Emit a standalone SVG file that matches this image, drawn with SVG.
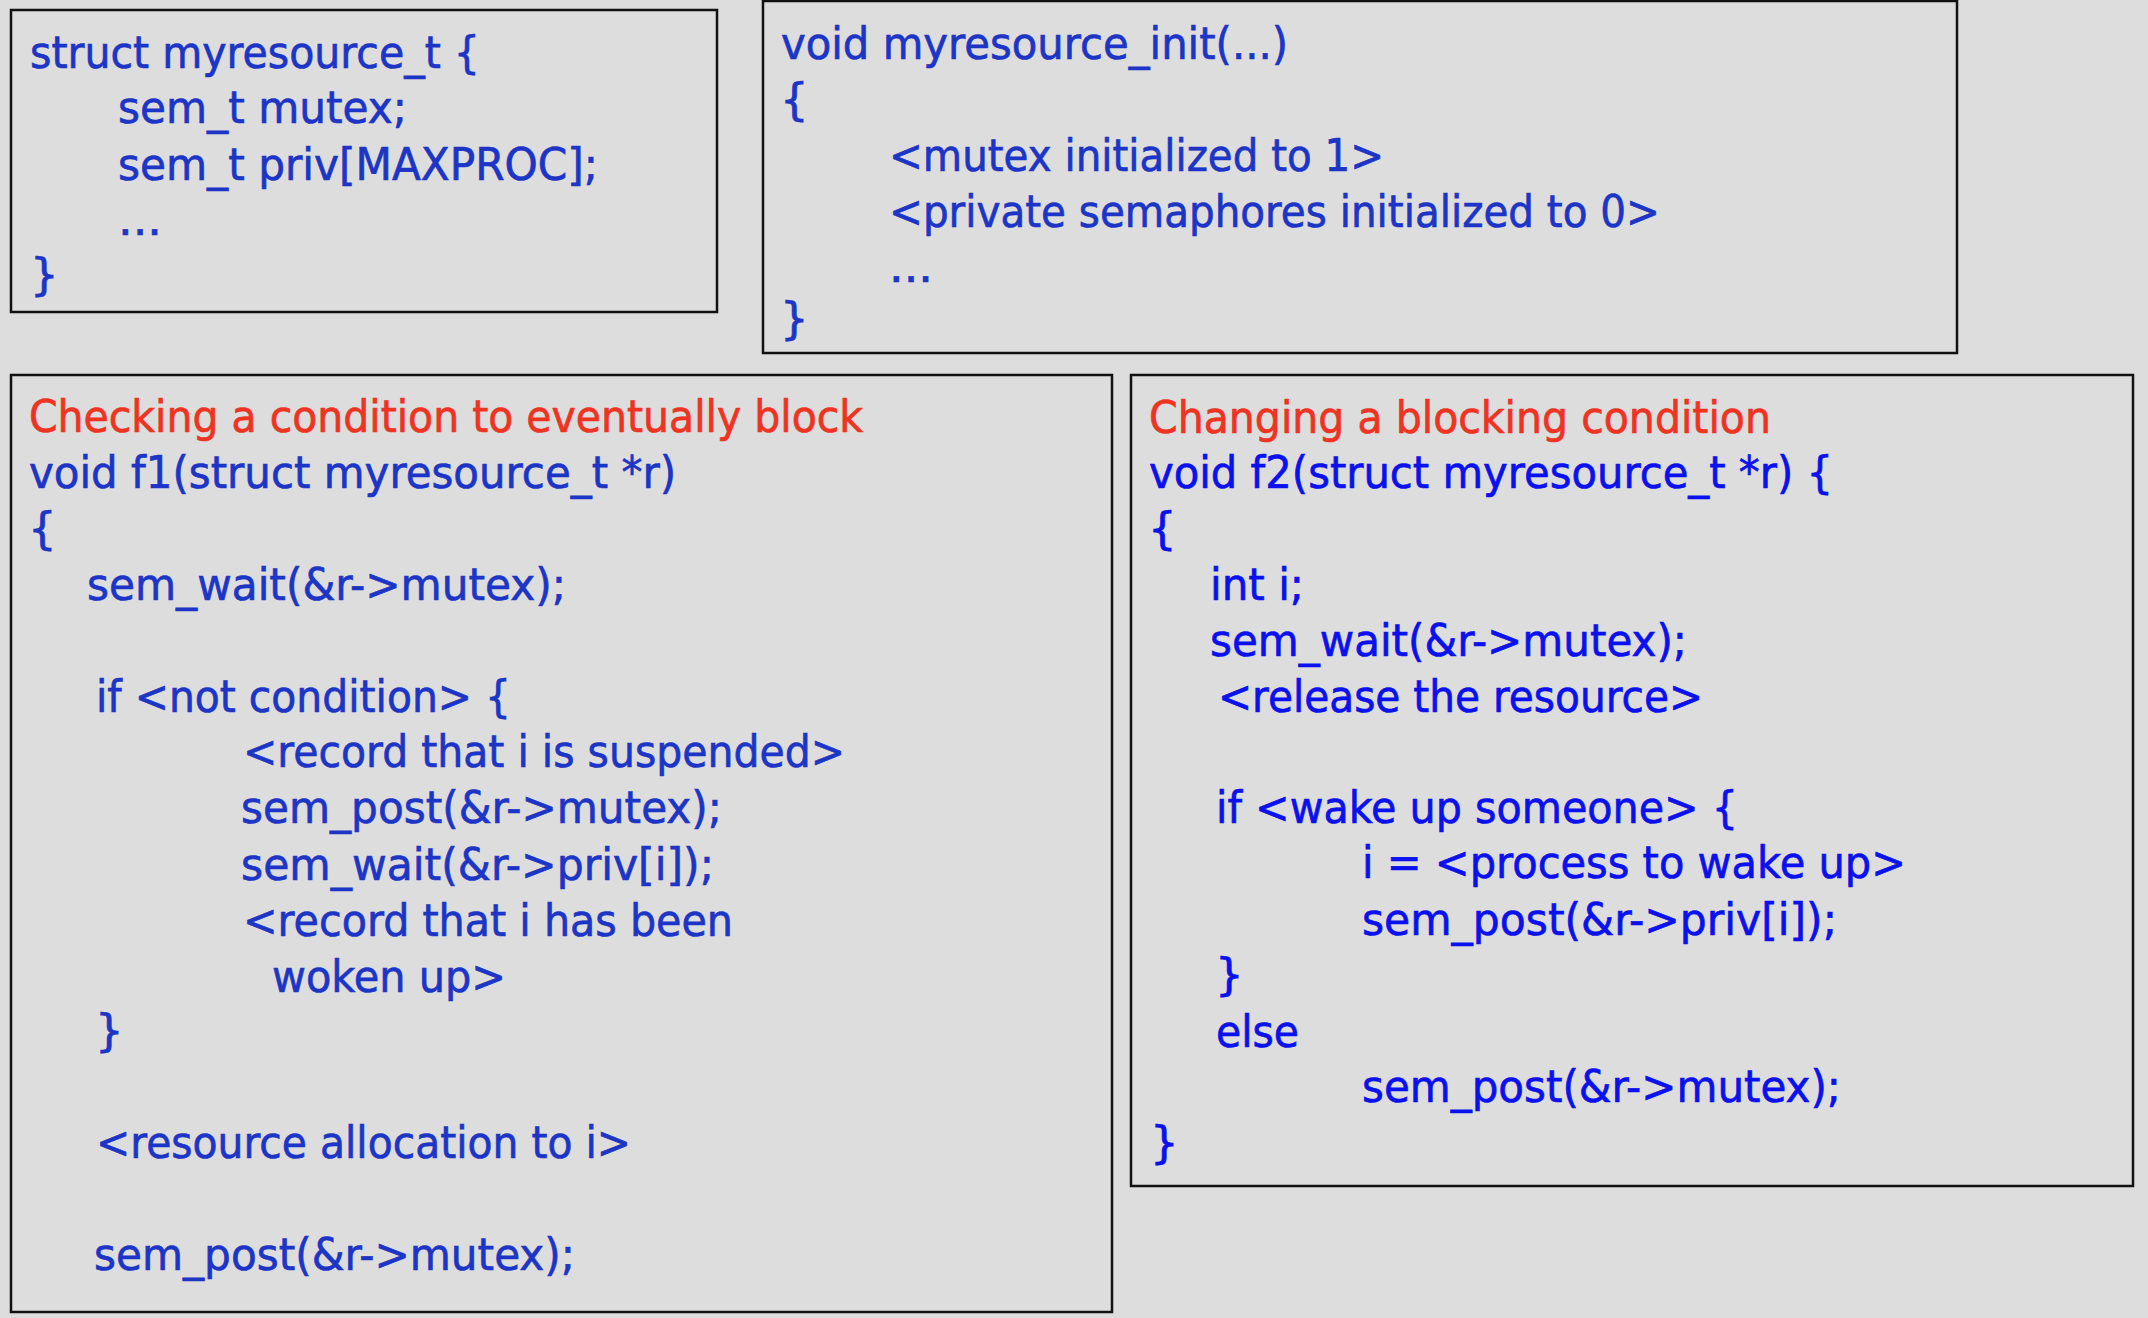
<svg xmlns="http://www.w3.org/2000/svg" width="2148" height="1318" viewBox="0 0 2148 1318">
<style>
.box{fill:#dddddd;stroke:#111111;stroke-width:2.5}
text{font-family:"DejaVu Sans","Verdana",sans-serif;font-size:45px;stroke-width:0.7px}
.b{fill:#1c35c6;stroke:#1c35c6}
.bb{fill:#0a10ee;stroke:#0a10ee}
.r{fill:#ee3322;stroke:#ee3322}
</style>
<rect x="0" y="0" width="2148" height="1318" fill="#dddddd"/>
<g id="struct">
<rect class="box" x="11" y="10" width="706" height="302"/>
<text class="b" x="30" y="68" textLength="450" lengthAdjust="spacingAndGlyphs">struct myresource_t {</text>
<text class="b" x="118" y="123" textLength="289" lengthAdjust="spacingAndGlyphs">sem_t mutex;</text>
<text class="b" x="118" y="180" textLength="480" lengthAdjust="spacingAndGlyphs">sem_t priv[MAXPROC];</text>
<text class="b" x="118" y="235" textLength="44" lengthAdjust="spacingAndGlyphs">...</text>
<text class="b" x="30" y="290">}</text>
</g>
<g id="init">
<rect class="box" x="763" y="1" width="1194" height="352"/>
<text class="b" x="781" y="59" textLength="507" lengthAdjust="spacingAndGlyphs">void myresource_init(...)</text>
<text class="b" x="780" y="115">{</text>
<text class="b" x="889" y="171" textLength="495" lengthAdjust="spacingAndGlyphs">&lt;mutex initialized to 1&gt;</text>
<text class="b" x="889" y="227" textLength="771" lengthAdjust="spacingAndGlyphs">&lt;private semaphores initialized to 0&gt;</text>
<text class="b" x="889" y="282" textLength="44" lengthAdjust="spacingAndGlyphs">...</text>
<text class="b" x="780" y="334">}</text>
</g>
<g id="f1">
<rect class="box" x="11" y="375" width="1101" height="937"/>
<text class="r" x="29" y="432" textLength="834" lengthAdjust="spacingAndGlyphs">Checking a condition to eventually block</text>
<text class="b" x="29" y="488" textLength="647" lengthAdjust="spacingAndGlyphs">void f1(struct myresource_t *r)</text>
<text class="b" x="28" y="544">{</text>
<text class="b" x="87" y="600" textLength="479" lengthAdjust="spacingAndGlyphs">sem_wait(&amp;r-&gt;mutex);</text>
<text class="b" x="96" y="712" textLength="415" lengthAdjust="spacingAndGlyphs">if &lt;not condition&gt; {</text>
<text class="b" x="243" y="767" textLength="602" lengthAdjust="spacingAndGlyphs">&lt;record that i is suspended&gt;</text>
<text class="b" x="241" y="823" textLength="481" lengthAdjust="spacingAndGlyphs">sem_post(&amp;r-&gt;mutex);</text>
<text class="b" x="241" y="880" textLength="473" lengthAdjust="spacingAndGlyphs">sem_wait(&amp;r-&gt;priv[i]);</text>
<text class="b" x="243" y="936" textLength="490" lengthAdjust="spacingAndGlyphs">&lt;record that i has been</text>
<text class="b" x="272" y="992" textLength="234" lengthAdjust="spacingAndGlyphs">woken up&gt;</text>
<text class="b" x="95" y="1046">}</text>
<text class="b" x="96" y="1158" textLength="535" lengthAdjust="spacingAndGlyphs">&lt;resource allocation to i&gt;</text>
<text class="b" x="94" y="1270" textLength="481" lengthAdjust="spacingAndGlyphs">sem_post(&amp;r-&gt;mutex);</text>
</g>
<g id="f2">
<rect class="box" x="1131" y="375" width="1002" height="811"/>
<text class="r" x="1149" y="433" textLength="622" lengthAdjust="spacingAndGlyphs">Changing a blocking condition</text>
<text class="bb" x="1149" y="488" textLength="684" lengthAdjust="spacingAndGlyphs">void f2(struct myresource_t *r) {</text>
<text class="bb" x="1148" y="544">{</text>
<text class="bb" x="1210" y="600" textLength="94" lengthAdjust="spacingAndGlyphs">int i;</text>
<text class="bb" x="1210" y="656" textLength="477" lengthAdjust="spacingAndGlyphs">sem_wait(&amp;r-&gt;mutex);</text>
<text class="bb" x="1218" y="712" textLength="485" lengthAdjust="spacingAndGlyphs">&lt;release the resource&gt;</text>
<text class="bb" x="1216" y="823" textLength="522" lengthAdjust="spacingAndGlyphs">if &lt;wake up someone&gt; {</text>
<text class="bb" x="1362" y="878" textLength="544" lengthAdjust="spacingAndGlyphs">i = &lt;process to wake up&gt;</text>
<text class="bb" x="1362" y="935" textLength="475" lengthAdjust="spacingAndGlyphs">sem_post(&amp;r-&gt;priv[i]);</text>
<text class="bb" x="1215" y="990">}</text>
<text class="bb" x="1216" y="1047" textLength="83" lengthAdjust="spacingAndGlyphs">else</text>
<text class="bb" x="1362" y="1102" textLength="479" lengthAdjust="spacingAndGlyphs">sem_post(&amp;r-&gt;mutex);</text>
<text class="bb" x="1150" y="1158">}</text>
</g>
<g id="connectors"></g>
</svg>
